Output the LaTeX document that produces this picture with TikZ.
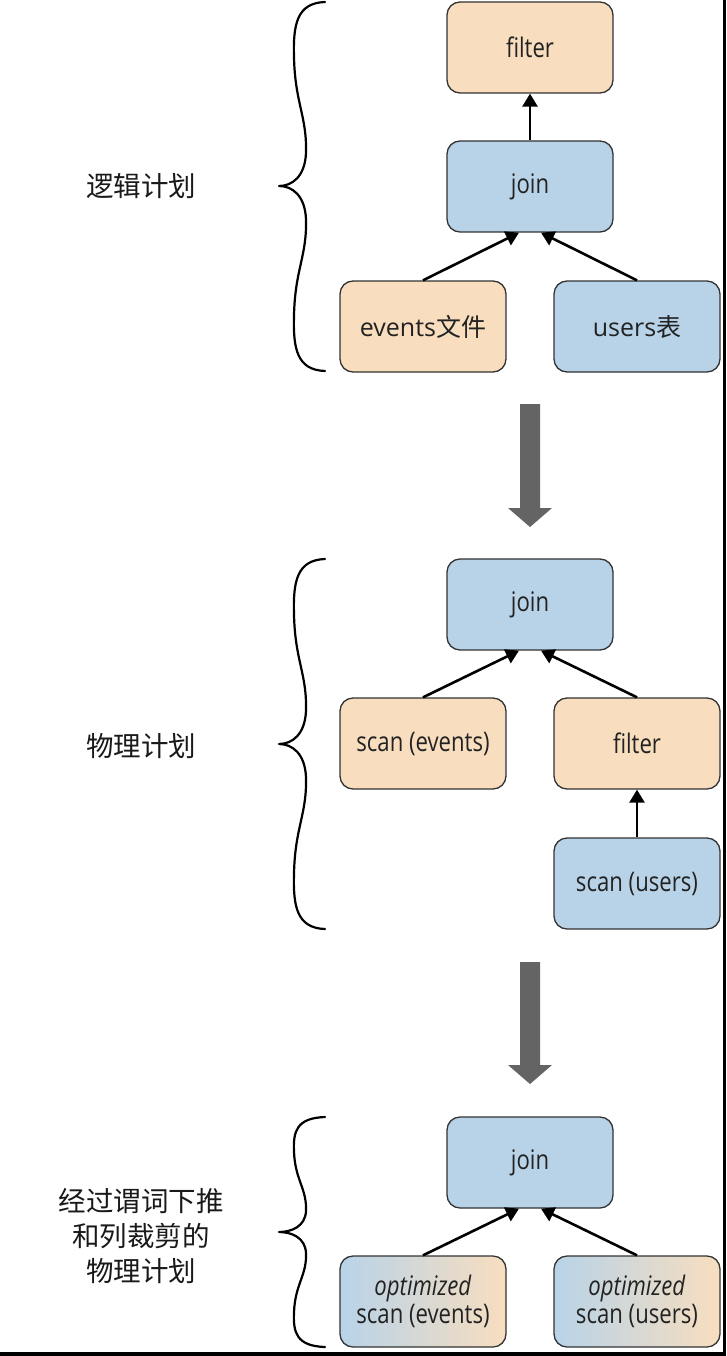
\documentclass[tikz,border=0pt]{standalone}
\usepackage{fontspec}
\setmainfont{Open Sans}[FakeStretch=0.82]
\newfontfamily\cjk{Noto Sans CJK SC}
\newfontfamily\opensans{Open Sans}
\usetikzlibrary{arrows.meta}

\definecolor{peach}{HTML}{F8DEBF}
\definecolor{lblue}{HTML}{B8D3E8}
\definecolor{bord}{HTML}{333333}
\definecolor{biggray}{HTML}{646464}
\definecolor{txt}{HTML}{222222}

\tikzset{
 box/.style={draw=bord, line width=1.3pt, rounded corners=13pt, minimum width=166pt, minimum height=91pt, inner sep=0pt, text=txt, font=\fontsize{27}{28}\selectfont, align=center},
 pbox/.style={box, fill=peach},
 bbox/.style={box, fill=lblue},
 gbox/.style={box, left color=lblue, right color=peach},
 conn/.style={line width=2.6pt, -{Triangle[width=15pt,length=13pt]}},
 lbl/.style={font=\cjk\fontsize{27.5}{35}\selectfont, align=center, text=black!90},
 bracepath/.style={line width=2.2pt, line cap=round, line join=round},
 bigarrow/.style={fill=biggray, draw=none},
}

\newcommand\mybrace[3]{%
 \draw[bracepath] (325,#1)
  .. controls (297,{#1+1}) and (293,{#1+0.12*(#2-#1)}) .. (294,{#1+0.3*(#2-#1)})
  .. controls (295,{#1+0.55*(#2-#1)}) and (307,{#1+0.62*(#2-#1)}) .. (306,{#1+0.82*(#2-#1)})
  .. controls (305,{#1+0.95*(#2-#1)}) and (292,#2) .. (279,#2)
  .. controls (292,#2) and (305,{#2+0.05*(#3-#2)}) .. (306,{#2+0.18*(#3-#2)})
  .. controls (307,{#2+0.38*(#3-#2)}) and (295,{#2+0.45*(#3-#2)}) .. (294,{#2+0.7*(#3-#2)})
  .. controls (293,{#2+0.88*(#3-#2)}) and (297,{#3-1}) .. (325,#3);
}
\newcommand\bigdown[2]{%
 \fill[bigarrow] (520,#1) -- (540,#1) -- (540,#2) -- (552,#2) -- (530,{#2+19}) -- (508,#2) -- (520,#2) -- cycle;
}

\begin{document}
\begin{tikzpicture}[x=1pt,y=-1pt]
\useasboundingbox (0,0) rectangle (726,1356);
\fill[white] (0,0) rectangle (726,1356);

% ---------- logical plan ----------
\node[pbox] (f1) at (530,47.5) {filter};
\node[bbox] (j1) at (530,186.5) {join};
\node[pbox] (e1) at (423,326.5) {{\opensans\fontsize{25}{30}\selectfont events}{\cjk\fontsize{25}{30}\selectfont 文件}};
\node[bbox] (u1) at (637,326.5) {{\opensans\fontsize{25}{30}\selectfont users}{\cjk\fontsize{25}{30}\selectfont 表}};
\draw[conn] (j1.north) -- (f1.south);
\draw[conn] (e1.north) -- ([xshift=-11pt]j1.south);
\draw[conn] (u1.north) -- ([xshift=11pt]j1.south);
\mybrace{2}{186}{371}
\node[lbl] (l1) at (141,186) {逻辑计划};

\bigdown{404}{508}

% ---------- physical plan ----------
\node[bbox] (j2) at (530,604.5) {join};
\node[pbox] (se2) at (423,743.5) {scan (events)};
\node[pbox] (f2) at (637,743.5) {filter};
\node[bbox] (su2) at (637,883.5) {scan (users)};
\draw[conn] (se2.north) -- ([xshift=-11pt]j2.south);
\draw[conn] (f2.north) -- ([xshift=11pt]j2.south);
\draw[conn] (su2.north) -- (f2.south);
\mybrace{559}{744}{929}
\node[lbl] (l2) at (141,746) {物理计划};

\bigdown{962}{1065}

% ---------- optimized physical plan ----------
\node[bbox] (j3) at (530,1162.5) {join};
\node[gbox] (oe3) at (423,1301.5) {\textit{optimized}\\scan (events)};
\node[gbox] (ou3) at (637,1301.5) {\textit{optimized}\\scan (users)};
\draw[conn] (oe3.north) -- ([xshift=-11pt]j3.south);
\draw[conn] (ou3.north) -- ([xshift=11pt]j3.south);
\mybrace{1117}{1232}{1347}
\node[lbl] (l3) at (141,1236) {经过谓词下推\\和列裁剪的\\物理计划};

% frame edges
\fill[black] (723,0) rectangle (726,1356);
\fill[black] (0,1352) rectangle (726,1356);
\end{tikzpicture}
\end{document}
